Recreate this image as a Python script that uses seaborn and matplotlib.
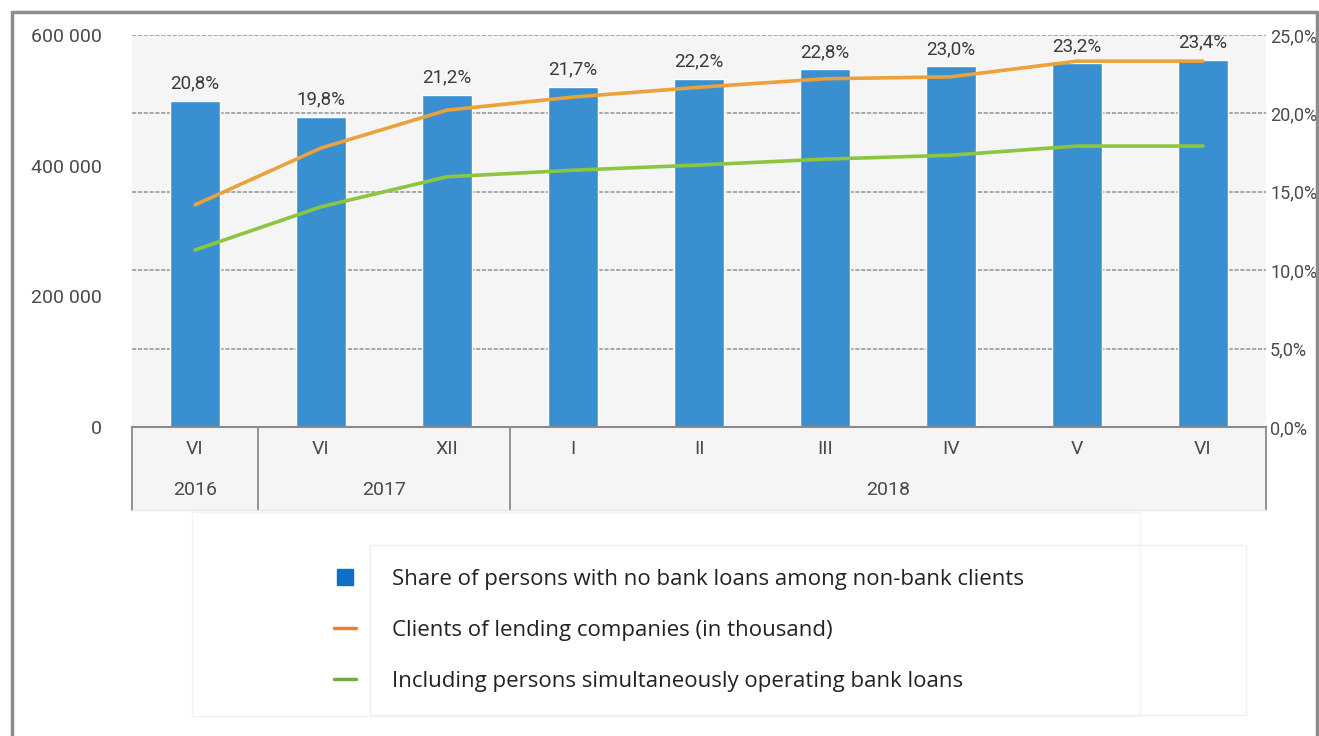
import numpy as np
import pandas as pd
import matplotlib
matplotlib.use("Agg")
import matplotlib.pyplot as plt
from matplotlib.lines import Line2D
from matplotlib.patches import Rectangle
import seaborn as sns

# ---- data -------------------------------------------------------------
periods = ["VI-2016", "VI-2017", "XII-2017", "I-2018", "II-2018",
           "III-2018", "IV-2018", "V-2018", "VI-2018"]
months = ["VI", "VI", "XII", "I", "II", "III", "IV", "V", "VI"]
years = ["2016", "2017", "2018"]
year_spans = [(0, 0), (1, 2), (3, 8)]
share_no_bank = [20.8, 19.8, 21.2, 21.7, 22.2, 22.8, 23.0, 23.2, 23.4]
clients_lending = [340000, 427000, 485000, 505000, 520000, 533000, 536000, 560000, 560000]
clients_with_bank = [271000, 337000, 383000, 393000, 401000, 410000, 416000, 430000, 430000]
pct_ticks = [0, 5, 10, 15, 20, 25]
count_ticks = [0, 200000, 400000, 600000]

label_share = "Share of persons with no bank loans among non-bank clients"
label_clients = "Clients of lending companies (in thousand)"
label_incl = "Including persons simultaneously operating bank loans"

# ---- style ------------------------------------------------------------
sns.set_theme(style="white")
plt.rcParams["font.family"] = ["Roboto", "DejaVu Sans"]

BAR = "#3a8fd0"
ORANGE = "#eba23a"
GREEN = "#8cc63f"
PANEL = "#f5f5f5"
TXT = "#4a4a4a"

fig = plt.figure(figsize=(13.19, 7.36), dpi=100)
fig.patch.set_facecolor("white")
W, H = 1319, 736
left, right, top, bottom = 132, 1266, 35, 427
ax = fig.add_axes([left / W, 1 - bottom / H, (right - left) / W, (bottom - top) / H])
ax.set_facecolor(PANEL)

df = pd.DataFrame({"period": periods, "share": share_no_bank})

# bars: percentage share (right-hand scale)
sns.barplot(data=df, x="period", y="share", order=periods, color=BAR,
            width=0.4, saturation=1, ax=ax, zorder=2)
ax.set_ylim(0, 25)
ax.set_xlim(-0.5, len(periods) - 0.5)
ax.set_xlabel("")
ax.set_ylabel("")
ax.set_xticks([])
for t in pct_ticks:
    ax.axhline(t, color="#9a9a9a", lw=1.2, ls=(0, (2.5, 1)), zorder=1)

for i, v in enumerate(share_no_bank):
    ax.annotate(f"{v:.1f}".replace(".", ",") + "%", (i, v), xytext=(0, 6),
                textcoords="offset points", ha="center", va="bottom",
                fontsize=13.5, color="#3a3a3a")

for s in ["top", "left", "right"]:
    ax.spines[s].set_visible(False)
ax.spines["bottom"].set_color("#8a8a8a")
ax.spines["bottom"].set_linewidth(1.5)

# lines: number of clients (left-hand scale)
ax2 = ax.twinx()
x = np.arange(len(periods))
sns.lineplot(x=x, y=clients_lending, color=ORANGE, lw=2.6, ax=ax2, zorder=3)
sns.lineplot(x=x, y=clients_with_bank, color=GREEN, lw=2.6, ax=ax2, zorder=3)
ax2.set_ylim(0, 600000)
for s in ax2.spines.values():
    s.set_visible(False)

# percentage ticks on the right, client counts on the left
ax.yaxis.tick_right()
ax.set_yticks(pct_ticks)
ax.set_yticklabels([f"{t:.1f}".replace(".", ",") + "%" for t in pct_ticks],
                   fontsize=13, color=TXT)
ax.tick_params(axis="y", which="both", length=0, pad=3, left=False, labelleft=False,
               right=True, labelright=True)

ax2.yaxis.tick_left()
ax2.set_yticks(count_ticks)
ax2.set_yticklabels([f"{t:,}".replace(",", " ") for t in count_ticks],
                    fontsize=14, color=TXT)
ax2.tick_params(axis="y", which="both", length=0, pad=22, left=True, labelleft=True,
                right=False, labelright=False)

# category table under the plot
tr = ax.get_xaxis_transform()
tbl_bottom = -(510 - 427) / (bottom - top)
row_split = -(470 - 427) / (bottom - top)
ax.add_patch(Rectangle((-0.5, tbl_bottom), len(periods), -tbl_bottom,
                       transform=tr, facecolor=PANEL, edgecolor="none",
                       clip_on=False, zorder=0))
for i, m in enumerate(months):
    ax.text(i, row_split / 2, m, transform=tr, ha="center", va="center",
            fontsize=14, color=TXT)
for yr, (a, b) in zip(years, year_spans):
    ax.text((a + b) / 2, (row_split + tbl_bottom) / 2, yr, transform=tr,
            ha="center", va="center", fontsize=14, color=TXT)
for xs in [-0.5, 0.5, 2.5, len(periods) - 0.5]:
    ax.plot([xs, xs], [0, tbl_bottom], transform=tr, color="#8a8a8a",
            lw=1.3, clip_on=False)
ax.plot([-0.5, len(periods) - 0.5], [tbl_bottom, tbl_bottom], transform=tr,
        color="#e6e6e6", lw=1, clip_on=False)

# outer frame
for xs, ys in [([12, 1317], [12, 12]), ([12, 12], [12, 736]), ([1317, 1317], [12, 736])]:
    fig.add_artist(Line2D([v / W for v in xs], [1 - v / H for v in ys],
                          color="#8c8c8c", lw=2.5))

# faint legend panel
fig.add_artist(Rectangle((192 / W, 1 - 716 / H), (1140 - 192) / W, (716 - 512) / H,
                         facecolor="none", edgecolor="#f2f2f2", lw=1))
fig.add_artist(Rectangle((370 / W, 1 - 715 / H), (1246 - 370) / W, (715 - 545) / H,
                         facecolor="none", edgecolor="#efefef", lw=1))

handles = [
    Line2D([], [], marker="s", ls="none", color="#0f6fc6", markersize=12),
    Line2D([], [], color="#ed7d31", lw=2.5),
    Line2D([], [], color="#70ad47", lw=2.5),
]
leg = fig.legend(handles, [label_share, label_clients, label_incl],
                 loc="upper left", bbox_to_anchor=(325 / W, 1 - 560 / H),
                 frameon=False, handlelength=1.0, handletextpad=1.6,
                 labelspacing=1.35, borderaxespad=0,
                 prop={"family": ["Open Sans", "DejaVu Sans"], "size": 16})
for t in leg.get_texts():
    t.set_color("#222222")

fig.savefig("out.png", dpi=100, facecolor="white")
